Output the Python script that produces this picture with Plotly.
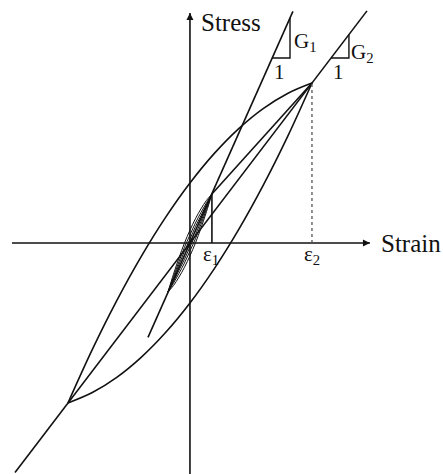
import plotly.graph_objects as go

# Normalised units: strain / eps2, stress / sigma2
eps2, sig2 = 1.0, 1.0
eps1, sig1 = 0.18, 0.306

# Large hysteresis loop
upper_eps = [-1.0, -0.8, -0.6, -0.4, -0.2, 0.0, 0.2, 0.4, 0.6, 0.8, 1.0]
upper_sig = [-1.0, -0.665, -0.36, -0.085, 0.16, 0.375, 0.56, 0.715, 0.84, 0.935, 1.0]
lower_eps = [-1.0, -0.8, -0.6, -0.4, -0.2, 0.0, 0.2, 0.4, 0.6, 0.8, 1.0]
lower_sig = [-1.0, -0.935, -0.84, -0.715, -0.56, -0.375, -0.16, 0.085, 0.36, 0.665, 1.0]

# Nested small-strain loops around the G1 secant
small_eps = [-0.18, -0.135, -0.09, -0.045, 0.0, 0.045, 0.09, 0.135, 0.18]
small_upper = [
    [-0.306, -0.195, -0.093, 0.000, 0.080, 0.152, 0.213, 0.266, 0.306],
    [-0.306, -0.210, -0.116, -0.027, 0.050, 0.125, 0.190, 0.251, 0.306],
    [-0.306, -0.222, -0.135, -0.051, 0.025, 0.102, 0.171, 0.240, 0.306],
]
small_lower = [
    [-0.306, -0.266, -0.213, -0.152, -0.080, 0.000, 0.093, 0.195, 0.306],
    [-0.306, -0.251, -0.190, -0.125, -0.050, 0.027, 0.116, 0.210, 0.306],
    [-0.306, -0.240, -0.171, -0.102, -0.025, 0.051, 0.135, 0.222, 0.306],
]

# Secant lines
g1_eps = [-0.344, 0.844]
g1_sig = [-0.590, 1.448]
g2_eps = [-1.434, 1.451]
g2_sig = [-1.434, 1.451]
chord_eps = [eps1, eps2]
chord_sig = [sig1, sig2]

# Slope triangles: [start on line, corner, top on line]
tri1_eps = [0.674, 0.82, 0.82]
tri1_sig = [1.156, 1.156, 1.407]
tri2_eps = [1.156, 1.303, 1.303]
tri2_sig = [1.156, 1.156, 1.303]

x_range = [-1.557, 2.074]
y_range = [-1.444, 1.519]
strain_axis = [-1.459, 1.475]
stress_axis = [-1.444, 1.4375]

ink = "#111111"
W = 1.6

fig = go.Figure()

def curve(x, y, shape="linear", dash="solid", width=W, color=ink):
    fig.add_trace(go.Scatter(x=x, y=y, mode="lines",
                             line=dict(color=color, width=width, shape=shape,
                                       dash=dash, smoothing=1.0),
                             hoverinfo="skip", showlegend=False))

# axes
curve([strain_axis[0], strain_axis[1]], [0, 0], width=1.6)
curve([0, 0], [stress_axis[0], stress_axis[1]], width=1.6)

# big loop
curve(upper_eps, upper_sig, shape="spline")
curve(lower_eps, lower_sig, shape="spline")

# small loops
for up, lo in zip(small_upper, small_lower):
    curve(small_eps, up, shape="spline", width=1.0)
    curve(small_eps, lo, shape="spline", width=1.0)

# secants
curve(g1_eps, g1_sig)
curve(g2_eps, g2_sig)
curve(chord_eps, chord_sig)

# eps1 / eps2 markers
curve([eps1, eps1], [0, sig1], width=1.6)
curve([eps2, eps2], [0, sig2], dash="dot", width=1.3, color="#555555")

# slope triangles
curve(tri1_eps, tri1_sig, width=1.4)
curve(tri2_eps, tri2_sig, width=1.4)

font = dict(family="Liberation Serif, DejaVu Serif, serif", size=25, color=ink)
small = dict(family="Liberation Serif, DejaVu Serif, serif", size=21, color=ink)

ann = [
    dict(x=0.07, y=1.381, text="Stress", xanchor="left", yanchor="middle", font=font),
    dict(x=1.552, y=0.0, text="Strain", xanchor="left", yanchor="middle", font=font),
    dict(x=0.17, y=-0.075, text="ε<sub>1</sub>", xanchor="center", yanchor="middle", font=small),
    dict(x=1.0, y=-0.075, text="ε<sub>2</sub>", xanchor="center", yanchor="middle", font=small),
    dict(x=0.835, y=1.256, text="G<sub>1</sub>", xanchor="left", yanchor="middle", font=small),
    dict(x=1.305, y=1.19, text="G<sub>2</sub>", xanchor="left", yanchor="middle", font=small),
    dict(x=0.73, y=1.069, text="1", xanchor="center", yanchor="middle", font=small),
    dict(x=1.221, y=1.069, text="1", xanchor="center", yanchor="middle", font=small),
]
for a in ann:
    a.update(showarrow=False, xref="x", yref="y")

# arrowheads on the axes
ann.append(dict(x=strain_axis[1], y=0, ax=strain_axis[1] - 0.05, ay=0,
                xref="x", yref="y", axref="x", ayref="y", showarrow=True,
                arrowhead=2, arrowsize=1.0, arrowwidth=1.4, arrowcolor=ink, text=""))
ann.append(dict(x=0, y=stress_axis[1], ax=0, ay=stress_axis[1] - 0.05,
                xref="x", yref="y", axref="x", ayref="y", showarrow=True,
                arrowhead=2, arrowsize=1.0, arrowwidth=1.4, arrowcolor=ink, text=""))

fig.update_layout(
    width=443, height=474,
    margin=dict(l=0, r=0, t=0, b=0),
    paper_bgcolor="white", plot_bgcolor="white",
    xaxis=dict(range=x_range, visible=False, fixedrange=True),
    yaxis=dict(range=y_range, visible=False, fixedrange=True),
    annotations=ann,
    showlegend=False,
)

fig.write_html("out.html")
